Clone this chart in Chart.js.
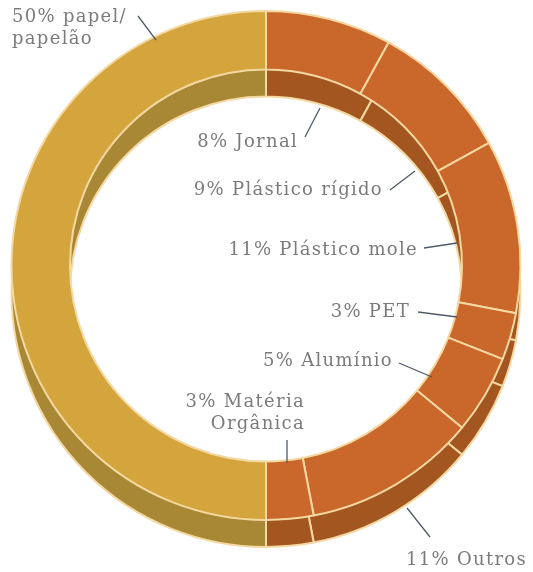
<!DOCTYPE html>
<html>
<head>
<meta charset="utf-8">
<script src="https://cdn.jsdelivr.net/npm/chart.js@4/dist/chart.umd.min.js"></script>
<style>
  html, body { margin: 0; padding: 0; background: #ffffff; }
  #wrap { width: 533px; height: 572px; position: relative; }
</style>
</head>
<body>
<div id="wrap"><canvas id="c"></canvas></div>
<script>
// ---- data ----
const categories = ['Jornal', 'Plástico rígido', 'Plástico mole', 'PET', 'Alumínio', 'Outros', 'Matéria Orgânica', 'papel/papelão'];
const values = [8, 9, 11, 3, 5, 11, 3, 50];
const labelLines = [
  [values[0] + '% Jornal'],
  [values[1] + '% Plástico rígido'],
  [values[2] + '% Plástico mole'],
  [values[3] + '% PET'],
  [values[4] + '% Alumínio'],
  [values[5] + '% Outros'],
  [values[6] + '% Matéria', 'Orgânica'],
  [values[7] + '% papel/', 'papelão']
];

// ---- styles / layout ----
const topColors  = ['#ca672b', '#ca672b', '#ca672b', '#ca672b', '#ca672b', '#ca672b', '#ca672b', '#d5a53d'];
const sideColors = ['#a3561f', '#a3561f', '#a3561f', '#a3561f', '#a3561f', '#a3561f', '#a3561f', '#a88834'];
const edgeColor = '#f4d8a2';
const depth = 27;
// text anchor x, first-line center y, alignment, leader line [x1,y1,x2,y2]
const labelLayout = [
  { x: 298, y: 142, align: 'right', line: [305, 137, 320, 108] },
  { x: 383, y: 190, align: 'right', line: [390, 190, 415, 171] },
  { x: 418, y: 250, align: 'right', line: [424, 248, 457, 243] },
  { x: 410, y: 312, align: 'right', line: [418, 312, 457, 317] },
  { x: 393, y: 361, align: 'right', line: [399, 363, 432, 377] },
  { x: 527, y: 560, align: 'right', line: [430, 537, 407, 508] },
  { x: 305, y: 402, align: 'right', line: [287, 440, 287, 463] },
  { x: 12,  y: 17,  align: 'left',  line: [138, 16, 156, 40] }
];

const extrusionPlugin = {
  id: 'extrusion',
  beforeDatasetsDraw(chart) {
    const ctx = chart.ctx;
    const meta = chart.getDatasetMeta(0);
    meta.data.forEach((el, i) => {
      const orig = el.options;
      el.options = Object.assign({}, orig, { backgroundColor: sideColors[i] });
      ctx.save();
      ctx.translate(0, depth);
      el.draw(ctx);
      ctx.restore();
      el.options = orig;
    });
  }
};

const labelPlugin = {
  id: 'labels',
  afterDraw(chart) {
    const ctx = chart.ctx;
    ctx.save();
    ctx.font = '18px "DejaVu Serif"';
    ctx.fillStyle = '#7b7b7b';
    ctx.textBaseline = 'middle';
    if ('letterSpacing' in ctx) ctx.letterSpacing = '1.3px';
    labelLayout.forEach((L, i) => {
      ctx.textAlign = L.align;
      labelLines[i].forEach((t, k) => {
        ctx.fillText(t, L.x, L.y + k * 22);
      });
      ctx.beginPath();
      ctx.moveTo(L.line[0], L.line[1]);
      ctx.lineTo(L.line[2], L.line[3]);
      ctx.strokeStyle = '#4f5a66';
      ctx.lineWidth = 1.3;
      ctx.stroke();
    });
    ctx.restore();
  }
};

new Chart(document.getElementById('c'), {
  type: 'doughnut',
  data: {
    labels: categories,
    datasets: [{
      data: values,
      backgroundColor: topColors,
      borderColor: edgeColor,
      borderWidth: 2
    }]
  },
  options: {
    responsive: true,
    maintainAspectRatio: false,
    animation: false,
    events: [],
    cutout: '77%',
    layout: { padding: { left: 10, right: 11, top: 10, bottom: 51 } },
    plugins: { legend: { display: false }, tooltip: { enabled: false } }
  },
  plugins: [extrusionPlugin, labelPlugin]
});
</script>
</body>
</html>
